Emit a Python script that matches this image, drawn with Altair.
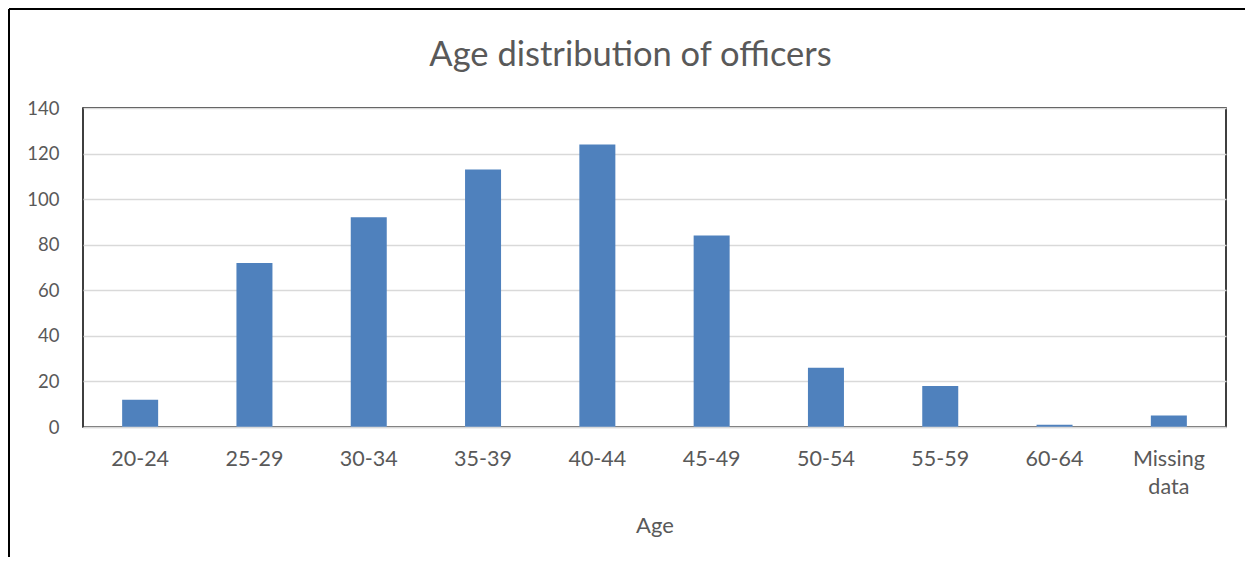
import altair as alt
import pandas as pd

ages = ["20-24", "25-29", "30-34", "35-39", "40-44", "45-49", "50-54", "55-59", "60-64", "Missing data"]
counts = [12, 72, 92, 113, 124, 84, 26, 18, 1, 5]
y_ticks = [0, 20, 40, 60, 80, 100, 120, 140]

df = pd.DataFrame({"Age": ages, "Count": counts})

FONT = "Lato"
TEXT = "#595959"
GRID = "#d9d9d9"

bars = alt.Chart(df).mark_bar(color="#4f81bd").encode(
    x=alt.X(
        "Age:N",
        sort=ages,
        scale=alt.Scale(paddingInner=0.685, paddingOuter=0.3425),
        axis=alt.Axis(
            title="Age",
            labelAngle=0,
            labelFont=FONT,
            labelFontSize=21.5,
            labelColor=TEXT,
            labelPadding=21,
            labelLineHeight=28,
            labelExpr="datum.label == 'Missing data' ? ['Missing', 'data'] : datum.label",
            ticks=False,
            tickSize=0,
            domainColor=GRID,
            domainWidth=1.5,
            titleFont=FONT,
            titleFontSize=22,
            titleColor=TEXT,
            titleFontWeight="normal",
            titlePadding=18,
            zindex=1,
        ),
    ),
    y=alt.Y(
        "Count:Q",
        scale=alt.Scale(domain=[0, 140]),
        axis=alt.Axis(
            title=None,
            values=y_ticks,
            ticks=False,
            tickSize=0,
            domain=False,
            gridColor=GRID,
            gridWidth=1.5,
            labelFont=FONT,
            labelFontSize=18.5,
            labelColor=TEXT,
            labelPadding=24,
        ),
    ),
)

frame_data = alt.Data(values=[{"k": 1}])
left_border = alt.Chart(frame_data).mark_rule(color="black", strokeWidth=2).encode(
    x=alt.value(-74), y=alt.value(-99), y2=alt.value(700)
)
top_border = alt.Chart(frame_data).mark_rule(color="black", strokeWidth=2).encode(
    x=alt.value(-74), x2=alt.value(1400), y=alt.value(-99)
)

chart = alt.layer(bars, left_border, top_border).properties(
    width=1143,
    height=319,
    autosize=alt.AutoSizeParams(type="none"),
    padding={"left": 75, "top": 100, "right": 19, "bottom": 130},
    title=alt.TitleParams(
        "Age distribution of officers",
        font=FONT,
        fontSize=34.5,
        fontWeight="normal",
        color=TEXT,
        anchor="middle",
        dx=-24,
        offset=-65,
    ),
).configure_view(stroke="black", strokeWidth=1.5)

chart.save("out.html", embed_options={"renderer": "svg", "actions": False})
